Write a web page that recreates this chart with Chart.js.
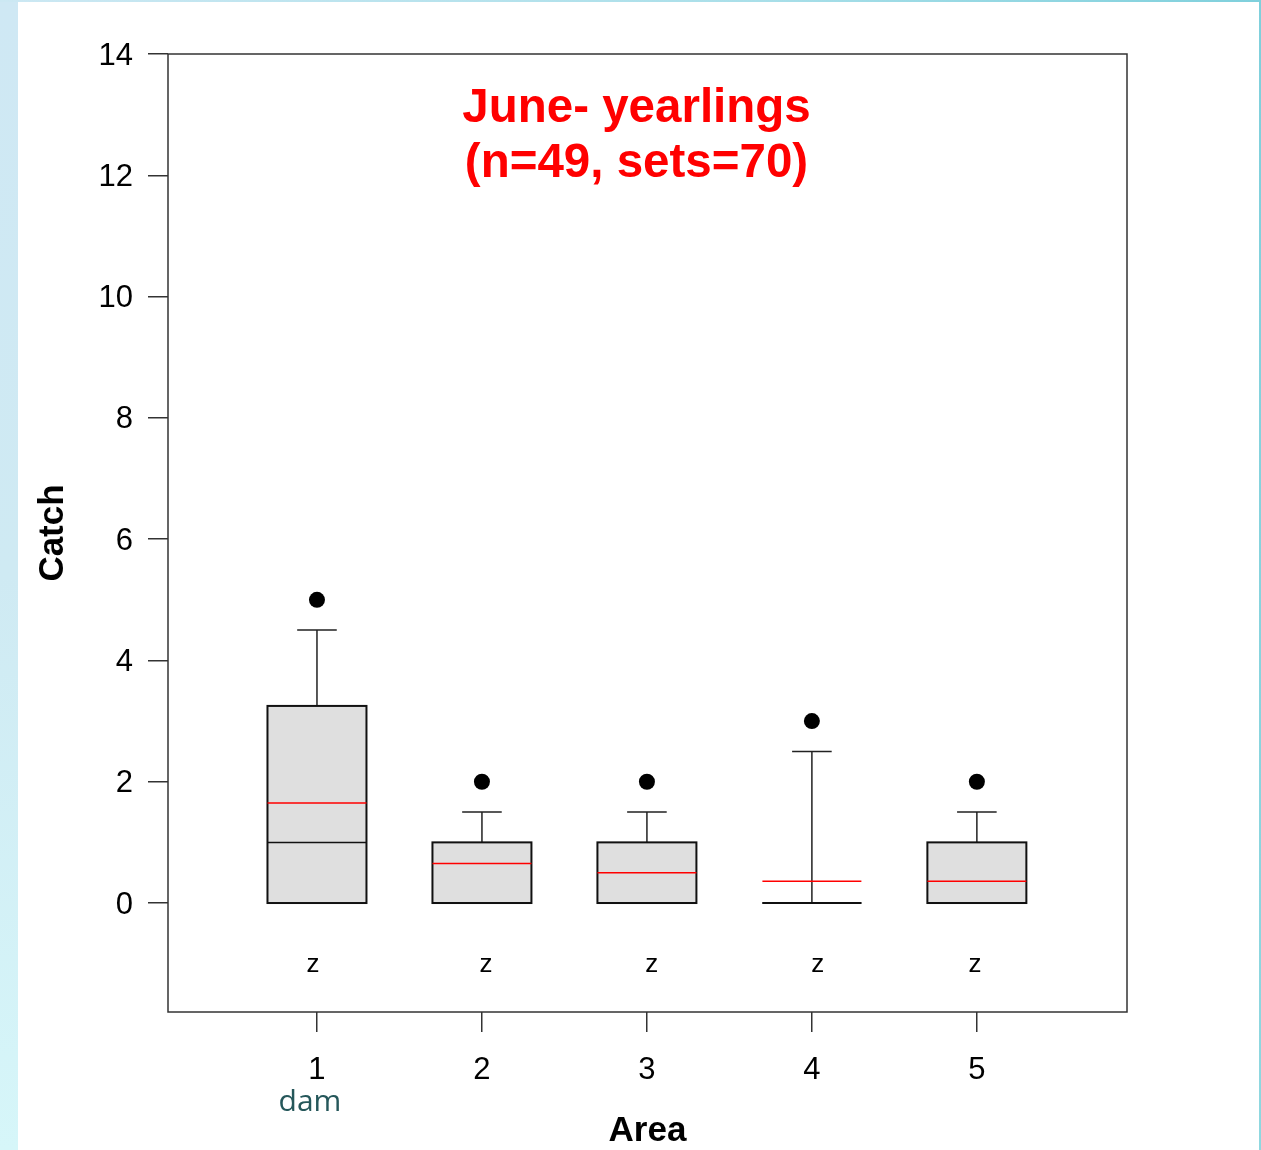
<!DOCTYPE html>
<html>
<head>
<meta charset="utf-8">
<script src="https://cdn.jsdelivr.net/npm/chart.js@4/dist/chart.umd.min.js"></script>
<style>
  html, body { margin: 0; padding: 0; background: #ffffff; }
  #wrap { position: relative; width: 1261px; height: 1150px; overflow: hidden; background: #ffffff; }
  #leftStrip { position: absolute; left: 0; top: 0; width: 18px; height: 1150px;
    background: linear-gradient(to bottom, #cfe8f4 0%, #cfeaf3 50%, #d6f6f9 100%); }
  #topStrip { position: absolute; left: 0; top: 0; width: 1261px; height: 2px;
    background: linear-gradient(to right, #cce8f3 0%, #a9dfe9 60%, #7fd0dc 100%); }
  #rightStrip { position: absolute; right: 0; top: 0; width: 2px; height: 1150px;
    background: linear-gradient(to bottom, #7fd0dc 0%, #8fd8e0 100%); }
  #c { position: absolute; left: 0; top: 0; }
</style>
</head>
<body>
<div id="wrap">
  <div id="leftStrip"></div>
  <div id="topStrip"></div>
  <div id="rightStrip"></div>
  <canvas id="c" width="1261" height="1150"></canvas>
</div>
<script>
// ---- Data ----
const categories   = [1, 2, 3, 4, 5];
const xTickLabels  = ['1', '2', '3', '4', '5'];
const xSubLabels   = ['dam', '', '', '', ''];
const q1Values     = [0, 0, 0, 0, 0];
const q3Values     = [3.25, 1, 1, 0, 1];
const medianValues = [1, 0, 0, 0, 0];
const meanValues   = [1.65, 0.65, 0.5, 0.36, 0.36];
const whiskerLow   = [0, 0, 0, 0, 0];
const whiskerHigh  = [4.5, 1.5, 1.5, 2.5, 1.5];
const outlierValues = [5, 2, 2, 3, 2];
const groupLetters = ['z', 'z', 'z', 'z', 'z'];
const groupLetterX = [0.976, 2.024, 3.03, 4.036, 4.988];
const groupLetterY = -1;
const yTickValues  = [0, 2, 4, 6, 8, 10, 12, 14];
const titleLines   = ['June- yearlings', '(n=49, sets=70)'];
const yAxisTitle   = 'Catch';
const xAxisTitle   = 'Area';

const FONT = "'Liberation Sans', Arial, sans-serif";
const BOX_W = 0.6;   // in x units
const CAP_W = 0.24;  // in x units

const boxPlugin = {
  id: 'boxPlugin',
  beforeDatasetsDraw(chart) {
    const ctx = chart.ctx;
    const xs = chart.scales.x, ys = chart.scales.y;
    const ca = chart.chartArea;
    ctx.save();
    // frame
    ctx.strokeStyle = '#333333';
    ctx.lineWidth = 1.5;
    ctx.strokeRect(ca.left, ca.top, ca.right - ca.left, ca.bottom - ca.top);

    categories.forEach((c, i) => {
      const xl = xs.getPixelForValue(c - BOX_W / 2);
      const xr = xs.getPixelForValue(c + BOX_W / 2);
      const xc = xs.getPixelForValue(c);
      const cl = xs.getPixelForValue(c - CAP_W / 2);
      const cr = xs.getPixelForValue(c + CAP_W / 2);
      const yq1 = ys.getPixelForValue(q1Values[i]);
      const yq3 = ys.getPixelForValue(q3Values[i]);
      const ymed = ys.getPixelForValue(medianValues[i]);
      const ymean = ys.getPixelForValue(meanValues[i]);
      const ywh = ys.getPixelForValue(whiskerHigh[i]);
      const ywl = ys.getPixelForValue(whiskerLow[i]);

      // whiskers
      ctx.strokeStyle = '#222222';
      ctx.lineWidth = 1.5;
      ctx.beginPath();
      ctx.moveTo(xc, yq3); ctx.lineTo(xc, ywh);
      ctx.moveTo(cl, ywh); ctx.lineTo(cr, ywh);
      if (ywl !== yq1) {
        ctx.moveTo(xc, yq1); ctx.lineTo(xc, ywl);
        ctx.moveTo(cl, ywl); ctx.lineTo(cr, ywl);
      }
      ctx.stroke();

      // box
      ctx.fillStyle = '#dfdfdf';
      ctx.fillRect(xl, yq3, xr - xl, yq1 - yq3);
      ctx.strokeStyle = '#111111';
      ctx.lineWidth = 2;
      ctx.strokeRect(xl, yq3, xr - xl, yq1 - yq3);

      // median
      ctx.strokeStyle = '#111111';
      ctx.lineWidth = 1.5;
      ctx.beginPath();
      ctx.moveTo(xl, ymed); ctx.lineTo(xr, ymed);
      ctx.stroke();

      // mean (red)
      ctx.strokeStyle = '#ff0000';
      ctx.lineWidth = 1.5;
      ctx.beginPath();
      ctx.moveTo(xl, ymean); ctx.lineTo(xr, ymean);
      ctx.stroke();
    });

    // group letters
    ctx.fillStyle = '#000000';
    ctx.font = '26px ' + FONT;
    ctx.textAlign = 'center';
    ctx.textBaseline = 'alphabetic';
    groupLetters.forEach((t, i) => {
      ctx.fillText(t, xs.getPixelForValue(groupLetterX[i]), ys.getPixelForValue(groupLetterY) + 8);
    });

    // title
    ctx.fillStyle = '#ff0000';
    ctx.font = 'bold 47.5px ' + FONT;
    const tx = (ca.left + ca.right) / 2 - 11;
    ctx.fillText(titleLines[0], tx, ca.top + 68);
    ctx.fillText(titleLines[1], tx, ca.top + 123);

    // sub-labels under x ticks
    ctx.fillStyle = '#25575a';
    ctx.font = "30px 'Open Sans', 'DejaVu Sans', sans-serif";
    xSubLabels.forEach((t, i) => {
      if (t) ctx.fillText(t, xs.getPixelForValue(categories[i]) - 7, ca.bottom + 99);
    });
    ctx.restore();
  }
};

new Chart(document.getElementById('c'), {
  type: 'scatter',
  data: {
    datasets: [{
      label: 'outliers',
      data: categories.map((c, i) => ({ x: c, y: outlierValues[i] })),
      pointRadius: 8,
      pointHoverRadius: 8,
      pointBackgroundColor: '#000000',
      pointBorderColor: '#000000',
      pointBorderWidth: 0
    }]
  },
  options: {
    responsive: false,
    animation: false,
    events: [],
    layout: { padding: { left: 0, right: 134, top: 54, bottom: 0 } },
    plugins: { legend: { display: false }, tooltip: { enabled: false } },
    scales: {
      x: {
        type: 'linear',
        min: 0.097,
        max: 5.91,
        afterBuildTicks: s => { s.ticks = categories.map(v => ({ value: v })); },
        afterFit: s => { s.height = 138; },
        border: { display: false },
        grid: { display: true, drawOnChartArea: false, drawTicks: true, tickLength: 20, color: '#333333', lineWidth: 1.5 },
        ticks: {
          color: '#000000',
          font: { family: FONT, size: 31 },
          padding: 20,
          maxRotation: 0,
          autoSkip: false,
          callback: (v) => { const i = categories.indexOf(v); return i >= 0 ? xTickLabels[i] : ''; }
        },
        title: {
          display: true,
          text: xAxisTitle,
          color: '#000000',
          font: { family: FONT, size: 35, weight: 'bold' },
          padding: { top: 0, bottom: -2 }
        }
      },
      y: {
        type: 'linear',
        min: -1.797,
        max: 14,
        afterBuildTicks: s => { s.ticks = yTickValues.map(v => ({ value: v })); },
        afterFit: s => { s.width = 168; },
        border: { display: false },
        grid: { display: true, drawOnChartArea: false, drawTicks: true, tickLength: 20, color: '#333333', lineWidth: 1.5 },
        ticks: {
          color: '#000000',
          font: { family: FONT, size: 31 },
          padding: 15,
          labelOffset: 2,
          autoSkip: false,
          callback: v => String(v)
        },
        title: {
          display: true,
          text: yAxisTitle,
          color: '#000000',
          font: { family: FONT, size: 35, weight: 'bold' },
          padding: { top: 32, bottom: 0 }
        }
      }
    }
  },
  plugins: [boxPlugin]
});
</script>
</body>
</html>
